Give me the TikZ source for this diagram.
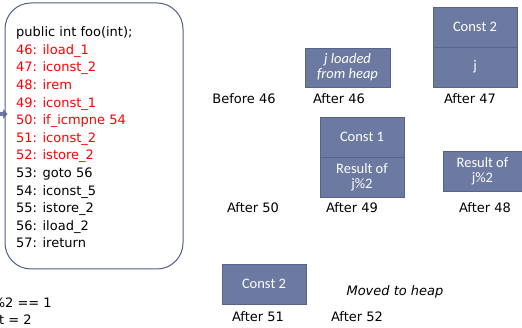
\documentclass[tikz,border=0pt]{standalone}
\usepackage{fontspec}
\setmainfont{DejaVu Sans}
\newfontfamily\boxfont{Carlito}
\definecolor{slotfill}{HTML}{6C79A1}
\definecolor{slotedge}{HTML}{56638B}
\definecolor{frameedge}{HTML}{525D86}
\definecolor{codered}{HTML}{FF0000}
\begin{document}
\begin{tikzpicture}[x=1pt,y=-1pt,
  codeline/.style={anchor=base west,inner sep=0pt,font=\fontsize{13}{16}\selectfont},
  hot/.style={codeline,text=codered},
  caption/.style={inner sep=0pt,font=\fontsize{13}{16}\selectfont},
  slot/.style={draw=slotedge,line width=0.8pt,fill=slotfill,text=white,
    minimum width=84pt,minimum height=40pt,inner sep=0pt,align=center,
    font=\boxfont\fontsize{14.5}{15}\selectfont}]
\useasboundingbox (0,0) rectangle (522,328);

% pointer into the listing
\fill[slotfill] (-2,112) -- (3,112) -- (3,109) -- (7.5,114) -- (3,119) -- (3,116) -- (-2,116) -- cycle;

% bytecode listing
\draw[frameedge,line width=1pt,rounded corners=26pt] (5,3) rectangle (183,269);
\node[codeline] (l0)  at (16,36.7)          {public int foo(int);};
\node[hot]      (l1)  at (16,36.7+17.6)     {46: iload\_1};
\node[hot]      (l2)  at (16,36.7+2*17.6)   {47: iconst\_2};
\node[hot]      (l3)  at (16,36.7+3*17.6)   {48: irem};
\node[hot]      (l4)  at (16,36.7+4*17.6)   {49: iconst\_1};
\node[hot]      (l5)  at (16,36.7+5*17.6)   {50: if\_icmpne 54};
\node[hot]      (l6)  at (16,36.7+6*17.6)   {51: iconst\_2};
\node[hot]      (l7)  at (16,36.7+7*17.6)   {52: istore\_2};
\node[codeline] (l8)  at (16,36.7+8*17.6)   {53: goto 56};
\node[codeline] (l9)  at (16,36.7+9*17.6)   {54: iconst\_5};
\node[codeline] (l10) at (16,36.7+10*17.6)  {55: istore\_2};
\node[codeline] (l11) at (16,36.7+11*17.6)  {56: iload\_2};
\node[codeline] (l12) at (16,36.7+12*17.6)  {57: ireturn};

% source lines at the lower left
\node[codeline] (src1) at (-11,307.7) {j\%2 == 1};
\node[codeline] (src2) at (-1,324.7) {t = 2};

% operand stack snapshots
\node[slot] (s46) at (347.5,67.5) [minimum width=85pt,minimum height=39pt] {\itshape j loaded\\\itshape from heap};
\node[slot] (s47a) at (475,27) {Const 2};
\node[slot] (s47b) at (475,67) {j};
\node[slot] (s48) at (482.5,171) [minimum width=79pt] {Result of\\j\%2};
\node[slot] (s49a) at (362,137) {Const 1};
\node[slot] (s49b) at (362,177) {Result of\\j\%2};
\node[slot] (s51) at (264,284) {Const 2};

% step captions
\node[caption] (c0)  at (244,99)  {Before 46};
\node[caption] (c46) at (339,99)  {After 46};
\node[caption] (c47) at (470,99)  {After 47};
\node[caption] (c50) at (253,208) {After 50};
\node[caption] (c49) at (352,208) {After 49};
\node[caption] (c48) at (485,208) {After 48};
\node[caption] (c51) at (258,317) {After 51};
\node[caption] (c52) at (357,317) {After 52};
\node[caption,font=\itshape\fontsize{13}{16}\selectfont] (heap) at (395,292) {Moved to heap};
\end{tikzpicture}
\end{document}
